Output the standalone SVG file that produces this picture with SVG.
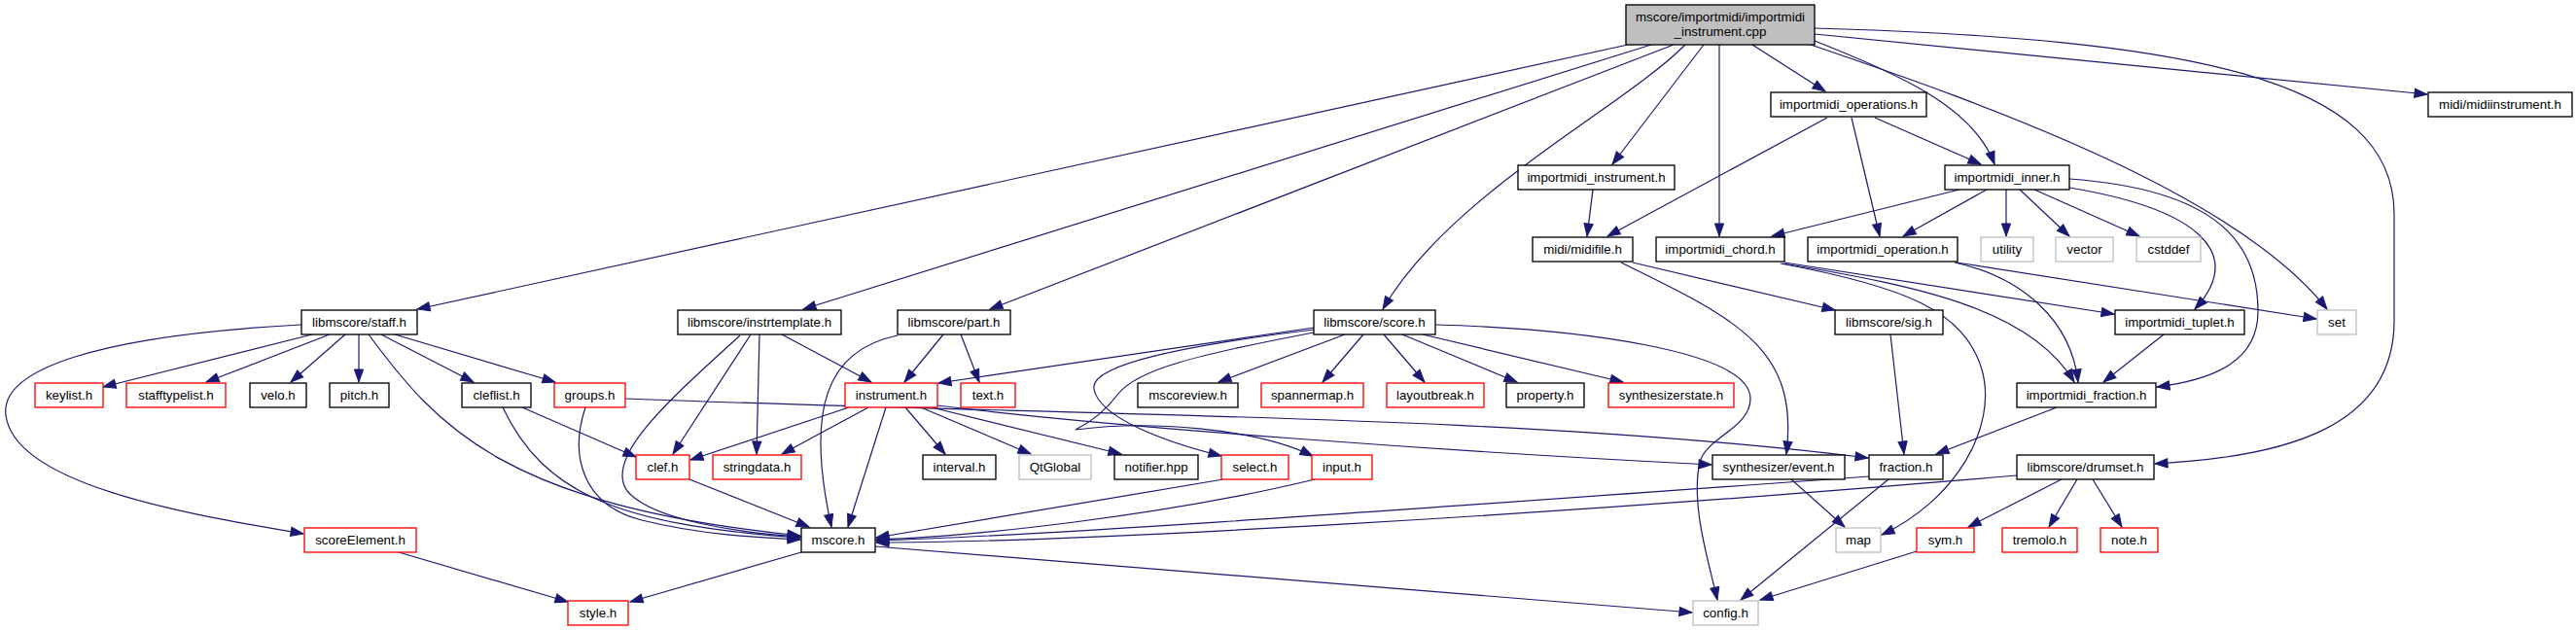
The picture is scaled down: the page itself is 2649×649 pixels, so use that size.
<svg xmlns="http://www.w3.org/2000/svg" width="2649" height="649" viewBox="0 0 2649 649">
<style>
.n rect{fill:#fff;stroke:#000;stroke-width:1.33}
.n.r rect{stroke:#ff0000}
.n.g rect{stroke:#bfbfbf}
.n text{font-family:"Liberation Sans",Arial,Helvetica,sans-serif;font-size:13.33px;fill:#000;text-anchor:middle}
#edges path{fill:none;stroke:#191970;stroke-width:1.2;marker-end:url(#ah)}
</style>
<defs>
<marker id="ah" markerUnits="userSpaceOnUse" markerWidth="15" markerHeight="11" refX="13" refY="5" orient="auto" overflow="visible">
<path d="M0,0.4 L13,5 L0,9.6 z" fill="#191970" stroke="#191970" stroke-width="1"/>
</marker>
</defs>
<rect width="2649" height="649" fill="#fff"/>
<g id="edges">
<path d="M1674,46 L429,318"/>
<path d="M1698,46 L826,318"/>
<path d="M1721,46 L1018,318"/>
<path d="M1733,46 C1670,110 1490,200 1422,318"/>
<path d="M1752,46 L1658,169"/>
<path d="M1768,46 L1768,243"/>
<path d="M1802,46 L1877,94"/>
<path d="M1866,42 C1950,75 2030,110 2051,169"/>
<path d="M1862,46 C2050,110 2300,200 2393,318"/>
<path d="M1866,35 L2496,97"/>
<path d="M1866,29 C2250,40 2462,80 2462,220 L2462,330 C2462,440 2350,470 2216,477"/>
<path d="M1879,121 L1653,243"/>
<path d="M1904,121 L1933,243"/>
<path d="M1928,121 L2037,169"/>
<path d="M1638,195 L1632,243"/>
<path d="M2015,195 L1822,243"/>
<path d="M2043,195 L1957,243"/>
<path d="M2063,195 L2063,243"/>
<path d="M2077,195 L2128,243"/>
<path d="M2092,195 L2200,243"/>
<path d="M2128,193 C2260,215 2310,260 2257,318"/>
<path d="M2128,184 C2280,195 2322,250 2322,320 C2322,370 2280,390 2218,398"/>
<path d="M2012,270 L2382,328"/>
<path d="M2010,270 C2080,285 2130,330 2137,393"/>
<path d="M1835,270 L2174,323"/>
<path d="M1833,271 C1980,295 2090,320 2133,393"/>
<path d="M1831,271 C1960,295 2020,320 2038,380 C2055,440 2010,515 1935,550"/>
<path d="M1679,270 L1887,319"/>
<path d="M1667,270 C1790,330 1850,360 1837,467"/>
<path d="M1351,337 L965,394"/>
<path d="M1351,339 C1220,355 1120,375 1125,400 C1130,430 1200,455 1256,469"/>
<path d="M1351,342 C1230,365 1170,380 1150,405 C1135,425 1120,435 1106,442 C1180,432 1290,440 1350,469"/>
<path d="M1383,344 L1253,393"/>
<path d="M1402,344 L1360,393"/>
<path d="M1423,344 L1465,393"/>
<path d="M1442,344 L1560,393"/>
<path d="M1463,344 L1669,393"/>
<path d="M1476,334 C1620,338 1800,360 1800,410 C1800,440 1755,450 1748,475 C1738,520 1758,580 1766,617"/>
<path d="M970,344 L930,393"/>
<path d="M988,344 L1007,393"/>
<path d="M923,345 C850,360 828,420 855,542"/>
<path d="M804,344 L896,393"/>
<path d="M772,344 L692,467"/>
<path d="M781,344 L778,467"/>
<path d="M761,345 C690,410 620,470 645,505 C670,535 760,548 823,552"/>
<path d="M873,419 L710,473"/>
<path d="M893,419 L804,467"/>
<path d="M911,419 L872,542"/>
<path d="M931,419 L972,467"/>
<path d="M947,419 L1060,467"/>
<path d="M958,419 L1153,467"/>
<path d="M964,417 C1150,440 1500,465 1760,478"/>
<path d="M643,410 C1100,428 1550,425 1921,471"/>
<path d="M537,419 L654,470"/>
<path d="M517,419 C560,510 640,540 823,553"/>
<path d="M602,419 C585,470 600,520 660,535 C720,550 780,553 823,555"/>
<path d="M379,344 C450,440 520,520 823,551"/>
<path d="M321,344 L106,398"/>
<path d="M339,344 L212,393"/>
<path d="M355,344 L299,393"/>
<path d="M369,344 L369,393"/>
<path d="M392,344 L487,393"/>
<path d="M406,344 L571,393"/>
<path d="M310,334 C100,345 0,380 6,427 C15,500 200,530 312,549"/>
<path d="M709,493 L832,542"/>
<path d="M1258,493 C1100,520 950,545 901,553"/>
<path d="M1352,493 C1200,530 1000,552 901,555"/>
<path d="M1922,490 C1500,520 1100,550 901,556"/>
<path d="M2074,489 C1600,530 1100,558 901,558"/>
<path d="M900,562 L1740,630"/>
<path d="M824,568 L648,619"/>
<path d="M410,568 L584,619"/>
<path d="M1944,344 L1958,467"/>
<path d="M2115,419 L1991,467"/>
<path d="M2225,344 L2163,393"/>
<path d="M1842,493 L1897,542"/>
<path d="M1942,493 L1790,617"/>
<path d="M1971,567 L1810,617"/>
<path d="M2120,493 L2024,542"/>
<path d="M2136,493 L2107,542"/>
<path d="M2152,493 L2182,542"/>
</g>
<g id="root" class="n"><rect x="1672" y="5" width="194" height="41" style="fill:#bfbfbf"/><text x="1769" y="22">mscore/importmidi/importmidi</text><text x="1769" y="37">_instrument.cpp</text></g>
<g id="importmidi_operations_h" class="n"><rect x="1821" y="95" width="160" height="25"/><text x="1901" y="112">importmidi_operations.h</text></g>
<g id="midi_midiinstrument_h" class="n"><rect x="2497" y="95" width="148" height="25"/><text x="2571" y="112">midi/midiinstrument.h</text></g>
<g id="importmidi_instrument_h" class="n"><rect x="1561" y="170" width="161" height="25"/><text x="1641.5" y="187">importmidi_instrument.h</text></g>
<g id="importmidi_inner_h" class="n"><rect x="2000" y="170" width="128" height="25"/><text x="2064" y="187">importmidi_inner.h</text></g>
<g id="midi_midifile_h" class="n"><rect x="1576" y="244" width="103" height="25"/><text x="1627.5" y="261">midi/midifile.h</text></g>
<g id="importmidi_chord_h" class="n"><rect x="1703" y="244" width="132" height="25"/><text x="1769" y="261">importmidi_chord.h</text></g>
<g id="importmidi_operation_h" class="n"><rect x="1859" y="244" width="154" height="25"/><text x="1936" y="261">importmidi_operation.h</text></g>
<g id="utility" class="n g"><rect x="2037" y="244" width="54" height="25"/><text x="2064" y="261">utility</text></g>
<g id="vector" class="n g"><rect x="2114" y="244" width="59" height="25"/><text x="2143.5" y="261">vector</text></g>
<g id="cstddef" class="n g"><rect x="2197" y="244" width="66" height="25"/><text x="2230" y="261">cstddef</text></g>
<g id="libmscore_staff_h" class="n"><rect x="310" y="319" width="119" height="25"/><text x="369.5" y="336">libmscore/staff.h</text></g>
<g id="libmscore_instrtemplate_h" class="n"><rect x="697" y="319" width="168" height="25"/><text x="781" y="336">libmscore/instrtemplate.h</text></g>
<g id="libmscore_part_h" class="n"><rect x="923" y="319" width="116" height="25"/><text x="981" y="336">libmscore/part.h</text></g>
<g id="libmscore_score_h" class="n"><rect x="1351" y="319" width="125" height="25"/><text x="1413.5" y="336">libmscore/score.h</text></g>
<g id="libmscore_sig_h" class="n"><rect x="1887" y="319" width="111" height="25"/><text x="1942.5" y="336">libmscore/sig.h</text></g>
<g id="importmidi_tuplet_h" class="n"><rect x="2175" y="319" width="133" height="25"/><text x="2241.5" y="336">importmidi_tuplet.h</text></g>
<g id="set" class="n g"><rect x="2383" y="319" width="40" height="25"/><text x="2403" y="336">set</text></g>
<g id="keylist_h" class="n r"><rect x="36" y="394" width="70" height="25"/><text x="71" y="411">keylist.h</text></g>
<g id="stafftypelist_h" class="n r"><rect x="130" y="394" width="102" height="25"/><text x="181" y="411">stafftypelist.h</text></g>
<g id="velo_h" class="n"><rect x="257" y="394" width="58" height="25"/><text x="286" y="411">velo.h</text></g>
<g id="pitch_h" class="n"><rect x="339" y="394" width="61" height="25"/><text x="369.5" y="411">pitch.h</text></g>
<g id="cleflist_h" class="n"><rect x="475" y="394" width="71" height="25"/><text x="510.5" y="411">cleflist.h</text></g>
<g id="groups_h" class="n r"><rect x="570" y="394" width="73" height="25"/><text x="606.5" y="411">groups.h</text></g>
<g id="instrument_h" class="n r"><rect x="869" y="394" width="95" height="25"/><text x="916.5" y="411">instrument.h</text></g>
<g id="text_h" class="n r"><rect x="988" y="394" width="56" height="25"/><text x="1016" y="411">text.h</text></g>
<g id="mscoreview_h" class="n"><rect x="1170" y="394" width="103" height="25"/><text x="1221.5" y="411">mscoreview.h</text></g>
<g id="spannermap_h" class="n r"><rect x="1297" y="394" width="105" height="25"/><text x="1349.5" y="411">spannermap.h</text></g>
<g id="layoutbreak_h" class="n r"><rect x="1426" y="394" width="100" height="25"/><text x="1476" y="411">layoutbreak.h</text></g>
<g id="property_h" class="n"><rect x="1549" y="394" width="80" height="25"/><text x="1589" y="411">property.h</text></g>
<g id="synthesizerstate_h" class="n r"><rect x="1654" y="394" width="129" height="25"/><text x="1718.5" y="411">synthesizerstate.h</text></g>
<g id="importmidi_fraction_h" class="n"><rect x="2074" y="394" width="143" height="25"/><text x="2145.5" y="411">importmidi_fraction.h</text></g>
<g id="clef_h" class="n r"><rect x="654" y="468" width="55" height="25"/><text x="681.5" y="485">clef.h</text></g>
<g id="stringdata_h" class="n r"><rect x="733" y="468" width="91" height="25"/><text x="778.5" y="485">stringdata.h</text></g>
<g id="interval_h" class="n"><rect x="949" y="468" width="75" height="25"/><text x="986.5" y="485">interval.h</text></g>
<g id="QtGlobal" class="n g"><rect x="1048" y="468" width="74" height="25"/><text x="1085" y="485">QtGlobal</text></g>
<g id="notifier_hpp" class="n"><rect x="1146" y="468" width="86" height="25"/><text x="1189" y="485">notifier.hpp</text></g>
<g id="select_h" class="n r"><rect x="1256" y="468" width="69" height="25"/><text x="1290.5" y="485">select.h</text></g>
<g id="input_h" class="n r"><rect x="1349" y="468" width="62" height="25"/><text x="1380" y="485">input.h</text></g>
<g id="synthesizer_event_h" class="n"><rect x="1761" y="468" width="136" height="25"/><text x="1829" y="485">synthesizer/event.h</text></g>
<g id="fraction_h" class="n"><rect x="1922" y="468" width="76" height="25"/><text x="1960" y="485">fraction.h</text></g>
<g id="libmscore_drumset_h" class="n"><rect x="2074" y="468" width="141" height="25"/><text x="2144.5" y="485">libmscore/drumset.h</text></g>
<g id="scoreElement_h" class="n r"><rect x="313" y="543" width="115" height="25"/><text x="370.5" y="560">scoreElement.h</text></g>
<g id="mscore_h" class="n"><rect x="824" y="543" width="76" height="25"/><text x="862" y="560">mscore.h</text></g>
<g id="map" class="n g"><rect x="1888" y="543" width="46" height="25"/><text x="1911" y="560">map</text></g>
<g id="sym_h" class="n r"><rect x="1971" y="543" width="59" height="25"/><text x="2000.5" y="560">sym.h</text></g>
<g id="tremolo_h" class="n r"><rect x="2059" y="543" width="77" height="25"/><text x="2097.5" y="560">tremolo.h</text></g>
<g id="note_h" class="n r"><rect x="2160" y="543" width="59" height="25"/><text x="2189.5" y="560">note.h</text></g>
<g id="style_h" class="n r"><rect x="584" y="618" width="62" height="25"/><text x="615" y="635">style.h</text></g>
<g id="config_h" class="n g"><rect x="1741" y="618" width="67" height="25"/><text x="1774.5" y="635">config.h</text></g>
</svg>
